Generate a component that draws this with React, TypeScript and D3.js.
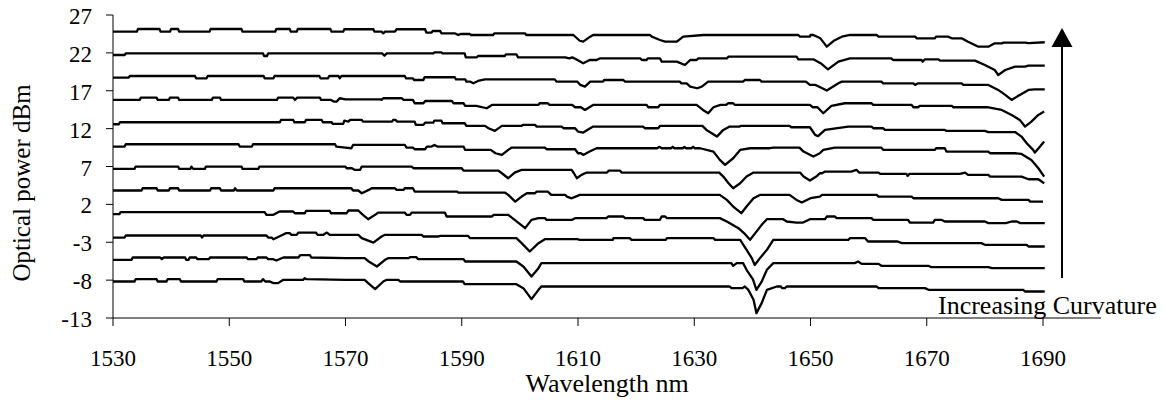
import React from "react";
import * as d3 from "d3";

const xTicks = [1530, 1550, 1570, 1590, 1610, 1630, 1650, 1670, 1690];
const yTicks = [-13, -8, -3, 2, 7, 12, 17, 22, 27];

const trace11 = [[1530,24.8],[1534.1,24.8],[1534.3,25.15],[1538.0,25.15],[1538.2,24.8],[1539.8,24.8],[1540.0,25.15],[1541.2,25.15],[1541.4,24.8],[1546.6,24.8],[1546.8,25.15],[1552.1,25.15],[1552.3,24.8],[1557.9,24.8],[1558.1,25.15],[1560.4,25.15],[1560.6,24.8],[1561.6,24.8],[1561.8,25.15],[1567.4,25.15],[1567.6,24.8],[1569.6,24.8],[1569.8,25.12],[1574.8,25.12],[1575.0,24.8],[1576.2,24.8],[1576.5,24.58],[1576.8,24.8],[1578.5,24.8],[1578.8,25.12],[1583.7,25.12],[1583.9,24.67],[1584.8,24.67],[1585.0,24.89],[1586.3,24.89],[1586.5,24.58],[1588.8,24.58],[1589.4,24.36],[1589.8,24.49],[1591.4,24.49],[1591.6,24.36],[1595.4,24.36],[1595.6,24.58],[1600.9,24.58],[1601.1,24.36],[1609.2,24.36],[1610.3,23.6],[1610.9,23.48],[1612.1,24.14],[1612.6,24.36],[1622.4,24.36],[1622.7,24.14],[1624.1,23.7],[1625.0,23.48],[1627.0,23.48],[1628.1,24.14],[1631.6,24.36],[1647.9,24.36],[1648.2,24.14],[1649.9,24.14],[1650.0,24.36],[1650.5,24.36],[1651.7,23.92],[1652.8,22.82],[1654.0,23.6],[1655.4,24.14],[1656.8,24.36],[1661.4,24.36],[1661.7,24.14],[1668.0,24.14],[1668.3,23.92],[1671.4,23.92],[1671.6,24.14],[1673.7,24.14],[1674.3,23.92],[1676.0,23.92],[1677.1,23.48],[1678.9,22.82],[1680.6,22.82],[1681.7,23.26],[1682.9,23.26],[1683.2,23.35],[1686.9,23.35],[1687.5,23.3],[1690.3,23.4]];

const trace10 = [[1530,21.72],[1532.0,21.72],[1532.2,21.94],[1555.8,21.94],[1556.0,21.59],[1556.5,21.59],[1556.7,21.94],[1576.3,21.94],[1576.7,21.63],[1577.1,21.94],[1585.1,21.94],[1585.3,22.07],[1586.5,22.07],[1586.7,21.94],[1590.5,21.94],[1590.7,21.41],[1592.6,21.41],[1592.8,21.59],[1597.4,21.59],[1597.6,21.81],[1599.4,21.81],[1599.7,21.41],[1607.8,21.41],[1608.5,21.28],[1609.0,21.41],[1609.6,21.2],[1610.9,20.62],[1612.0,21.06],[1613.2,21.06],[1613.8,21.28],[1620.7,21.28],[1621.0,21.06],[1621.8,21.06],[1622.0,21.28],[1624.1,21.28],[1624.4,20.84],[1627.0,20.84],[1628.4,20.4],[1629.3,21.06],[1630.4,21.06],[1630.7,21.28],[1635.6,21.28],[1635.9,21.5],[1647.6,21.5],[1647.9,21.15],[1650.5,21.15],[1651.8,20.6],[1653.0,19.83],[1654.8,20.84],[1656.8,21.28],[1663.9,21.28],[1664.2,21.06],[1669.1,21.06],[1669.3,20.84],[1669.7,21.15],[1672.0,21.15],[1672.3,20.98],[1678.3,20.98],[1680.0,20.4],[1681.7,19.74],[1682.3,19.08],[1683.5,19.74],[1685.2,20.18],[1686.9,20.18],[1687.5,20.32],[1690.3,20.32]];

const trace9 = [[1530,18.73],[1532.7,18.73],[1532.9,18.95],[1544.1,18.95],[1544.3,18.64],[1546.1,18.64],[1546.3,18.95],[1555.9,18.95],[1556.1,18.64],[1557.6,18.64],[1557.8,18.95],[1565.5,18.95],[1565.7,18.64],[1567.0,18.64],[1567.2,18.95],[1568.8,18.95],[1569.0,18.64],[1569.3,18.95],[1580.2,18.95],[1580.4,18.64],[1581.6,18.64],[1581.8,18.42],[1583.4,18.42],[1583.6,18.78],[1588.8,18.78],[1589.0,18.51],[1590.6,18.51],[1590.8,18.2],[1591.5,18.2],[1592.0,17.98],[1592.8,18.29],[1594.0,18.51],[1606.0,18.51],[1606.3,18.2],[1609.9,18.2],[1610.4,17.77],[1611.2,17.55],[1612.1,18.2],[1614.3,18.2],[1614.5,18.42],[1617.8,18.42],[1618.1,18.2],[1627.5,18.2],[1627.8,17.98],[1628.7,17.98],[1629.3,17.55],[1630.5,17.33],[1631.3,17.55],[1632.4,18.2],[1638.4,18.2],[1638.7,18.42],[1641.3,18.42],[1641.6,18.2],[1649.2,18.2],[1649.9,17.77],[1650.8,17.77],[1651.6,17.5],[1652.8,17.02],[1654.8,17.98],[1655.4,18.2],[1662.2,18.2],[1662.5,17.98],[1667.7,17.98],[1668.0,17.77],[1668.5,17.98],[1676.0,17.98],[1676.3,17.77],[1680.6,17.77],[1682.3,17.11],[1683.5,16.45],[1684.6,15.79],[1686.0,16.45],[1687.5,17.11],[1688.6,17.19],[1690.3,17.19]];

const trace8 = [[1530,15.79],[1534.6,15.79],[1534.8,16.09],[1537.5,16.09],[1537.7,15.79],[1539.6,15.79],[1539.8,16.09],[1541.2,16.09],[1541.4,15.79],[1547.0,15.79],[1547.2,16.09],[1548.4,16.09],[1548.6,15.79],[1558.2,15.79],[1558.4,16.09],[1561.0,16.09],[1561.3,15.79],[1561.7,16.09],[1565.6,16.09],[1565.8,15.79],[1567.5,15.79],[1568.0,15.57],[1568.5,15.57],[1569.0,16.01],[1570.0,15.87],[1576.0,15.87],[1576.2,15.79],[1576.5,16.01],[1579.7,16.01],[1580.0,15.79],[1581.6,15.79],[1581.9,15.35],[1583.4,15.35],[1583.7,15.65],[1588.3,15.65],[1588.6,15.35],[1590.3,15.35],[1590.6,15.0],[1592.5,15.0],[1594.3,14.69],[1595.2,15.13],[1603.2,15.13],[1603.4,15.35],[1604.8,15.35],[1605.1,15.13],[1609.0,15.13],[1609.5,14.82],[1610.5,14.82],[1611.2,14.47],[1612.6,15.13],[1621.8,15.13],[1622.1,14.82],[1623.8,14.82],[1624.1,15.13],[1630.4,15.13],[1631.5,14.47],[1632.4,14.03],[1633.3,14.82],[1634.5,15.13],[1635.5,15.13],[1635.8,15.35],[1636.7,15.35],[1637.0,15.13],[1649.9,15.13],[1650.4,14.82],[1651.2,14.82],[1652.2,14.03],[1653.6,15.0],[1655.9,15.35],[1660.5,15.35],[1660.8,15.13],[1667.4,15.13],[1667.7,14.82],[1668.5,14.82],[1668.8,15.0],[1674.3,15.0],[1674.6,14.82],[1680.6,14.82],[1682.9,14.47],[1684.6,13.81],[1686.0,13.15],[1686.9,12.27],[1688.0,12.93],[1689.2,13.81],[1690.2,14.25]];

const trace7 = [[1530,12.58],[1531.0,12.58],[1531.2,12.84],[1558.7,12.84],[1558.9,13.15],[1561.0,13.15],[1561.2,12.84],[1563.0,12.84],[1563.2,13.15],[1565.9,13.15],[1566.1,12.84],[1567.6,12.84],[1567.8,12.62],[1569.6,12.62],[1569.8,13.06],[1570.5,12.93],[1570.8,13.15],[1572.8,13.15],[1573.0,12.93],[1578.0,12.93],[1578.2,13.15],[1578.6,13.15],[1578.9,12.93],[1581.9,12.93],[1582.1,12.49],[1583.4,12.49],[1583.7,12.8],[1585.1,12.8],[1585.3,13.06],[1586.5,13.06],[1586.7,12.71],[1590.5,12.71],[1590.8,12.36],[1594.0,12.36],[1594.6,12.05],[1595.7,11.7],[1596.9,12.36],[1600.3,12.36],[1600.5,12.49],[1602.6,12.49],[1602.9,12.27],[1607.2,12.27],[1607.5,12.05],[1609.5,12.05],[1610.0,11.61],[1610.9,11.48],[1612.6,12.27],[1621.2,12.27],[1621.5,12.05],[1623.8,12.05],[1624.1,12.36],[1631.4,12.36],[1632.1,11.83],[1633.9,10.95],[1635.0,11.83],[1636.1,12.27],[1637.8,12.27],[1638.0,12.36],[1646.4,12.36],[1646.7,12.18],[1649.9,12.18],[1650.8,11.17],[1651.3,11.0],[1652.5,11.83],[1656.5,12.27],[1660.5,12.27],[1660.8,12.05],[1662.5,12.05],[1662.8,11.83],[1673.1,11.83],[1673.4,11.7],[1680.0,11.7],[1680.6,11.55],[1685.2,11.55],[1686.3,10.95],[1687.2,10.07],[1688.3,9.19],[1688.6,8.85],[1689.5,9.63],[1690.2,10.3]];

const trace6 = [[1530,9.63],[1532.0,9.63],[1532.2,9.94],[1551.6,9.94],[1551.8,9.63],[1553.9,9.63],[1554.1,9.94],[1568.2,9.94],[1568.4,9.63],[1570.0,9.5],[1571.0,9.41],[1571.3,9.85],[1580.2,9.85],[1580.5,9.5],[1581.6,9.5],[1581.9,9.28],[1583.7,9.28],[1584.0,9.63],[1584.8,9.63],[1585.3,9.85],[1585.8,9.63],[1590.3,9.63],[1590.6,9.19],[1595.0,9.19],[1595.8,8.75],[1596.9,8.53],[1598.0,9.19],[1598.6,9.5],[1604.3,9.5],[1604.6,9.28],[1609.5,9.28],[1610.0,8.75],[1610.5,8.75],[1610.9,8.53],[1612.0,8.97],[1613.2,9.41],[1623.6,9.41],[1624.0,9.6],[1624.4,9.41],[1626.0,9.41],[1626.3,9.6],[1626.6,9.41],[1628.0,9.41],[1628.3,9.58],[1628.6,9.41],[1629.5,9.41],[1629.8,9.6],[1630.1,9.41],[1631.0,9.41],[1633.3,8.97],[1634.4,7.87],[1635.3,7.21],[1636.7,8.09],[1637.9,9.19],[1639.6,9.41],[1643.0,9.41],[1643.6,9.5],[1648.1,9.5],[1648.8,8.97],[1650.5,8.31],[1651.6,8.75],[1652.2,9.19],[1654.2,9.5],[1662.2,9.5],[1662.5,9.19],[1671.4,9.19],[1671.6,9.41],[1673.1,9.41],[1673.4,8.97],[1680.6,8.97],[1680.9,8.75],[1685.2,8.75],[1686.3,8.66],[1688.0,7.87],[1689.2,6.77],[1690.2,5.67]];

const trace5 = [[1530,6.68],[1533.7,6.68],[1533.9,6.99],[1541.2,6.99],[1541.4,6.68],[1543.3,6.68],[1543.5,6.99],[1543.8,6.68],[1545.8,6.68],[1546.0,6.99],[1552.1,6.99],[1552.3,6.68],[1555.0,6.68],[1555.2,6.99],[1570.0,6.99],[1570.2,6.77],[1571.1,6.77],[1571.6,6.55],[1572.5,6.55],[1572.8,6.99],[1581.4,6.99],[1581.7,6.77],[1590.0,6.77],[1590.3,6.46],[1596.3,6.46],[1596.9,6.11],[1598.0,5.45],[1599.1,6.2],[1600.3,6.55],[1608.9,6.55],[1609.3,6.11],[1609.8,5.45],[1610.6,5.89],[1611.5,6.2],[1615.0,6.2],[1615.3,6.46],[1617.2,6.46],[1617.5,6.2],[1634.3,6.2],[1635.0,5.67],[1635.9,4.79],[1636.7,4.13],[1637.9,4.79],[1639.0,5.67],[1640.2,6.2],[1648.2,6.2],[1648.8,5.67],[1649.9,5.14],[1651.0,5.67],[1651.6,6.11],[1652.0,6.11],[1652.5,6.33],[1657.0,6.33],[1657.9,6.55],[1658.4,6.2],[1661.7,6.2],[1662.0,6.02],[1666.5,6.02],[1666.7,5.76],[1667.0,6.02],[1675.7,6.02],[1676.6,6.2],[1677.1,5.89],[1680.6,5.89],[1680.9,5.67],[1686.3,5.67],[1687.5,5.32],[1689.2,5.32],[1690.2,4.79]];

const trace4 = [[1530,3.83],[1534.9,3.83],[1535.1,4.13],[1537.5,4.13],[1537.7,3.83],[1539.6,3.83],[1539.8,4.13],[1541.2,4.13],[1541.4,3.83],[1546.7,3.83],[1546.9,4.13],[1548.4,4.13],[1548.6,3.83],[1550.8,3.83],[1551.0,4.13],[1551.3,3.83],[1557.6,3.83],[1557.8,4.13],[1571.0,4.13],[1571.3,3.83],[1572.2,3.83],[1572.8,3.47],[1574.0,3.91],[1574.5,4.13],[1578.5,4.13],[1578.8,3.91],[1580.0,3.91],[1580.2,4.13],[1581.6,4.13],[1581.9,3.69],[1589.2,3.69],[1589.4,3.56],[1597.4,3.56],[1598.0,3.25],[1599.2,2.37],[1600.3,3.03],[1601.2,3.47],[1602.6,3.47],[1602.9,3.69],[1604.8,3.69],[1605.4,3.25],[1607.8,3.25],[1608.1,3.03],[1608.9,2.8],[1609.6,3.03],[1610.3,3.25],[1634.4,3.25],[1635.6,2.59],[1636.7,1.71],[1638.1,0.84],[1639.0,1.71],[1640.2,2.81],[1641.3,3.25],[1646.4,3.25],[1647.6,2.59],[1648.5,2.24],[1650.0,2.81],[1651.6,3.03],[1652.0,3.25],[1661.4,3.25],[1661.7,3.03],[1667.4,3.03],[1667.7,2.81],[1682.3,2.81],[1682.9,2.59],[1687.5,2.59],[1687.8,2.37],[1690.0,2.37]];

const trace3 = [[1530,0.7],[1531.1,0.7],[1531.3,0.97],[1556.1,0.97],[1556.4,0.62],[1557.6,0.62],[1558.4,0.97],[1558.7,1.06],[1561.0,1.06],[1561.3,0.83],[1563.0,0.83],[1563.2,1.14],[1567.3,1.14],[1567.5,0.83],[1570.2,0.83],[1570.5,1.19],[1572.2,1.19],[1573.0,0.62],[1573.9,0.04],[1575.1,0.62],[1575.6,0.92],[1580.2,0.92],[1580.5,0.62],[1581.1,0.62],[1581.4,0.92],[1587.1,0.92],[1587.4,0.4],[1595.2,0.4],[1595.5,0.62],[1598.0,0.62],[1599.1,-0.04],[1600.9,-1.14],[1602.0,-0.04],[1603.2,0.18],[1604.3,0.18],[1604.6,-0.04],[1609.0,-0.04],[1609.5,0.18],[1614.9,0.18],[1615.2,0.4],[1617.8,0.4],[1618.1,0.18],[1621.2,0.18],[1621.5,-0.04],[1624.1,-0.04],[1624.4,0.4],[1625.0,0.4],[1625.3,0.18],[1634.4,0.18],[1635.6,-0.26],[1637.6,-1.14],[1638.7,-1.9],[1639.6,-2.68],[1640.5,-1.8],[1641.6,-0.7],[1642.5,0.04],[1645.3,0.04],[1645.9,-0.26],[1647.6,-0.4],[1648.7,-0.4],[1649.9,0.04],[1652.5,0.04],[1652.8,0.4],[1654.2,0.4],[1654.5,0.18],[1660.5,0.18],[1660.8,-0.04],[1666.8,-0.04],[1667.1,-0.4],[1671.1,-0.4],[1671.4,-0.04],[1672.5,-0.04],[1673.1,-0.26],[1680.0,-0.26],[1680.6,-0.48],[1683.6,-0.48],[1684.6,-0.26],[1685.5,-0.26],[1686.1,-0.48],[1690.3,-0.48]];

const trace2 = [[1530,-2.38],[1532.0,-2.38],[1532.2,-2.11],[1545.1,-2.11],[1545.3,-2.38],[1545.6,-2.11],[1556.4,-2.11],[1556.7,-2.38],[1557.3,-2.38],[1557.6,-2.6],[1559.3,-1.98],[1559.8,-1.8],[1560.4,-1.8],[1560.7,-2.02],[1561.6,-2.02],[1561.9,-1.72],[1564.9,-1.72],[1565.2,-2.02],[1566.2,-2.02],[1566.8,-1.72],[1567.3,-2.02],[1572.2,-2.02],[1572.8,-2.46],[1574.8,-3.04],[1576.2,-2.24],[1576.8,-2.02],[1583.1,-2.02],[1583.4,-2.24],[1586.0,-2.24],[1586.3,-2.16],[1591.1,-2.16],[1591.4,-2.46],[1599.4,-2.46],[1600.3,-3.12],[1601.7,-4.22],[1603.2,-3.12],[1604.3,-2.6],[1609.9,-2.6],[1610.3,-2.68],[1616.0,-2.68],[1616.1,-2.46],[1618.9,-2.46],[1619.2,-2.68],[1625.1,-2.68],[1625.3,-2.46],[1633.3,-2.46],[1633.6,-2.68],[1637.9,-2.68],[1639.0,-4.0],[1639.9,-5.1],[1640.4,-6.0],[1641.3,-5.1],[1642.5,-4.0],[1643.6,-2.68],[1656.5,-2.68],[1656.8,-2.46],[1659.4,-2.46],[1659.9,-2.9],[1665.0,-2.9],[1665.7,-3.12],[1679.4,-3.12],[1680.0,-3.34],[1687.2,-3.34],[1687.5,-3.56],[1690.3,-3.56]];

const trace1 = [[1530,-5.32],[1533.2,-5.32],[1533.4,-5.01],[1538.1,-5.01],[1538.4,-5.23],[1538.7,-5.01],[1542.4,-5.01],[1542.6,-5.32],[1543.0,-5.32],[1543.2,-5.01],[1544.3,-5.01],[1544.5,-5.23],[1546.5,-5.23],[1546.7,-5.01],[1553.0,-5.01],[1553.2,-5.23],[1554.7,-5.23],[1554.9,-5.01],[1556.4,-5.01],[1556.7,-5.23],[1557.5,-5.23],[1558.1,-5.41],[1559.3,-5.01],[1561.9,-5.01],[1562.2,-4.71],[1563.9,-4.71],[1564.1,-5.01],[1570.0,-5.1],[1573.3,-5.1],[1574.0,-5.54],[1575.4,-6.2],[1576.8,-5.32],[1577.4,-5.1],[1580.8,-5.1],[1581.1,-4.97],[1582.2,-4.97],[1582.5,-5.23],[1590.3,-5.23],[1590.6,-5.54],[1599.4,-5.54],[1600.6,-6.2],[1602.0,-7.52],[1603.2,-6.42],[1603.7,-5.76],[1636.4,-5.76],[1636.7,-6.11],[1637.3,-5.76],[1638.4,-5.76],[1639.0,-6.64],[1640.1,-7.9],[1640.7,-9.28],[1641.6,-8.2],[1642.5,-6.64],[1643.6,-5.76],[1657.6,-5.76],[1658.2,-5.54],[1658.8,-5.85],[1661.7,-5.85],[1662.2,-6.11],[1670.3,-6.11],[1670.8,-6.29],[1680.6,-6.29],[1681.2,-6.42],[1690.3,-6.42]];

const trace0 = [[1530,-8.18],[1533.7,-8.18],[1533.9,-7.87],[1537.5,-7.87],[1537.7,-8.18],[1539.2,-8.18],[1539.4,-7.87],[1541.5,-7.87],[1541.7,-8.18],[1547.8,-8.18],[1548.0,-7.87],[1552.4,-7.87],[1552.6,-8.18],[1555.5,-8.18],[1555.8,-7.87],[1556.2,-8.18],[1557.0,-8.18],[1557.6,-8.4],[1558.4,-8.4],[1559.3,-7.96],[1562.7,-7.96],[1563.0,-7.74],[1563.3,-7.87],[1570.0,-7.96],[1573.3,-7.96],[1573.9,-8.4],[1575.1,-9.19],[1576.5,-8.18],[1577.1,-7.96],[1579.1,-7.96],[1579.4,-8.18],[1590.2,-8.18],[1590.5,-8.53],[1599.4,-8.53],[1600.6,-9.06],[1602.0,-10.51],[1603.2,-9.28],[1603.7,-8.84],[1636.1,-8.84],[1636.4,-9.06],[1638.3,-9.06],[1638.7,-8.84],[1639.3,-9.28],[1640.2,-10.6],[1640.7,-12.36],[1641.6,-11.04],[1642.5,-9.28],[1644.2,-8.84],[1644.9,-8.84],[1645.1,-9.06],[1645.6,-9.06],[1645.9,-8.84],[1661.4,-8.84],[1661.7,-9.06],[1669.7,-9.06],[1670.3,-9.28],[1686.6,-9.28],[1686.9,-9.5],[1690.3,-9.5]];

const traces = [trace0, trace1, trace2, trace3, trace4, trace5, trace6, trace7, trace8, trace9, trace10, trace11];

const W = 1165;
const H = 400;
const FONT = "'Liberation Serif', 'Times New Roman', serif";

export default function App() {
  const x = d3.scaleLinear().domain([1530, 1690]).range([113, 1043]);
  const y = d3.scaleLinear().domain([-13, 27]).range([318, 15]);
  const line = d3
    .line<number[]>()
    .x((d) => x(d[0]))
    .y((d) => y(d[1]))
    .curve(d3.curveLinear);

  const axisY = y(-13);
  const axisEnd = x(1700);

  return (
    <svg
      width={W}
      height={H}
      viewBox={`0 0 ${W} ${H}`}
      style={{ position: "absolute", left: 0, top: 0, background: "#fff" }}
      fontFamily={FONT}
    >
      <rect x={0} y={0} width={W} height={H} fill="#fff" />
      {/* y axis */}
      <line x1={x(1530)} x2={x(1530)} y1={y(27)} y2={axisY} stroke="#000" strokeWidth={1} />
      {yTicks.map((t) => (
        <g key={"yt" + t}>
          <line x1={x(1530) - 7} x2={x(1530)} y1={y(t)} y2={y(t)} stroke="#000" strokeWidth={1} />
          <text x={92} y={y(t) + 9} textAnchor="end" fontSize={23} fill="#000">
            {t}
          </text>
        </g>
      ))}
      {/* x axis */}
      <line x1={x(1530)} x2={axisEnd} y1={axisY} y2={axisY} stroke="#000" strokeWidth={1} />
      {xTicks.map((t) => (
        <g key={"xt" + t}>
          <line x1={x(t)} x2={x(t)} y1={axisY} y2={axisY + 8} stroke="#000" strokeWidth={1} />
          <text x={x(t)} y={366} textAnchor="middle" fontSize={23} fill="#000">
            {t}
          </text>
        </g>
      ))}
      {/* traces */}
      {traces.map((tr, i) => (
        <path
          key={"tr" + i}
          d={line(tr) || ""}
          fill="none"
          stroke="#000"
          strokeWidth={2.3}
          strokeLinejoin="round"
        />
      ))}
      {/* titles */}
      <text x={(x(1530) + axisEnd) / 2} y={392} textAnchor="middle" fontSize={26} fill="#000">
        Wavelength nm
      </text>
      <text
        transform={`translate(30, 183) rotate(-90)`}
        textAnchor="middle"
        fontSize={25}
        fill="#000"
      >
        Optical power dBm
      </text>
      {/* arrow */}
      <line x1={1062} x2={1062} y1={278} y2={46} stroke="#000" strokeWidth={2} />
      <polygon points="1051.5,47 1072.5,47 1062,28" fill="#000" />
      <text x={938} y={314} fontSize={26} fill="#000">
        Increasing Curvature
      </text>
    </svg>
  );
}
